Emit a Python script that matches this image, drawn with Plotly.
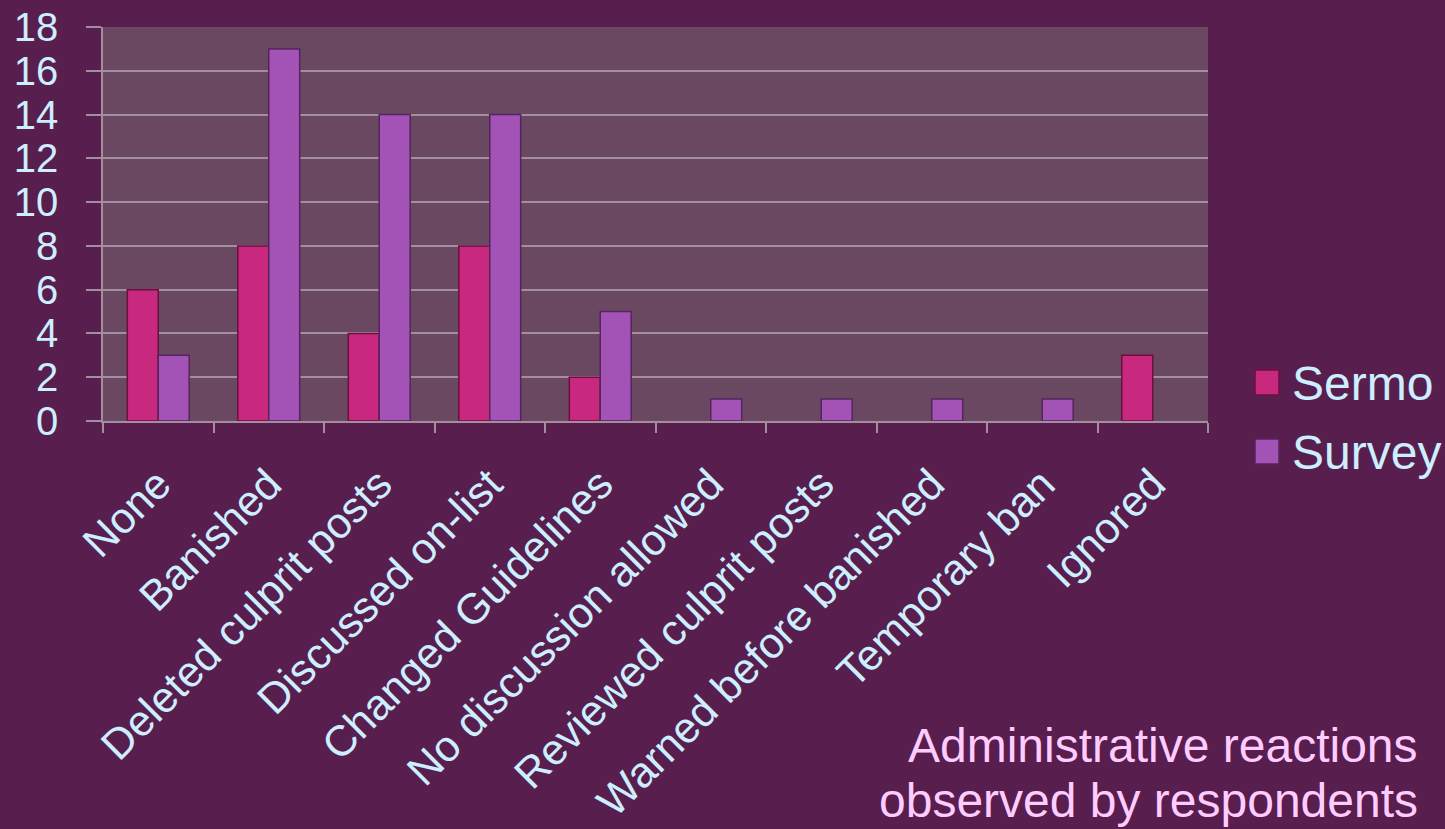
import plotly.graph_objects as go

categories = ["None", "Banished", "Deleted culprit posts", "Discussed on-list",
              "Changed Guidelines", "No discussion allowed", "Reviewed culprit posts",
              "Warned before banished", "Temporary ban", "Ignored"]
sermo = [6, 8, 4, 8, 2, 0, 0, 0, 0, 3]
survey = [3, 17, 14, 14, 5, 1, 1, 1, 1, 0]
series_names = ["Sermo", "Survey"]
y_ticks = list(range(0, 19, 2))

BG = "#581E4D"
PLOT_BG = "#6A4862"
GRID = "#A38E9E"
TEXT = "#CCEEFF"
PINK = "#FFCCFF"
COLORS = ["#C8297E", "#A352B6"]
EDGE = ["#6E0E40", "#55245F"]

fig = go.Figure()
for name, vals, c, e in zip(series_names, [sermo, survey], COLORS, EDGE):
    fig.add_trace(go.Bar(x=categories, y=vals, name=name,
                         marker=dict(color=c, line=dict(color=e,
                                                        width=[1.5 if v else 0 for v in vals])),
                         showlegend=False))

fig.update_layout(
    width=1445, height=829,
    paper_bgcolor=BG, plot_bgcolor=PLOT_BG,
    margin=dict(l=103, r=237, t=27, b=408),
    barmode="group", bargap=0.44, bargroupgap=0.0,
    font=dict(family="Arial, Liberation Sans, sans-serif", color=TEXT),
)
fig.update_yaxes(range=[0, 18], tickvals=y_ticks, showgrid=True, gridcolor=GRID, gridwidth=1.5,
                 ticks="outside", ticklen=15, tickcolor=GRID, tickwidth=1.5,
                 showline=True, linecolor=GRID, linewidth=1.5, automargin=False,
                 tickfont=dict(size=40, color=TEXT), ticklabelstandoff=20, zeroline=False)
fig.update_xaxes(tickangle=-45, tickson="boundaries", ticks="outside", ticklen=10,
                 tickcolor=GRID, tickwidth=1.5, showline=True, linecolor=GRID, linewidth=1.5,
                 automargin=False, ticklabelstandoff=19,
                 tickfont=dict(size=43, color=TEXT), showgrid=False)

# manual legend
legend_y = [383, 452]
for name, c, e, yy in zip(series_names, COLORS, EDGE, legend_y):
    fig.add_shape(type="rect", xref="paper", yref="paper",
                  x0=(1255 - 103) / 1105, x1=(1279 - 103) / 1105,
                  y0=(421 - (yy + 12)) / 394, y1=(421 - (yy - 13)) / 394,
                  fillcolor=c, line=dict(color=e, width=1.5))
    fig.add_annotation(xref="paper", yref="paper", x=(1290 - 103) / 1105, y=(421 - yy) / 394,
                       text=name, showarrow=False, xanchor="left", yanchor="middle",
                       font=dict(size=48, color=TEXT))

title_lines = ["Administrative reactions", "observed by respondents"]
for line, yy in zip(title_lines, [745, 800]):
    fig.add_annotation(xref="paper", yref="paper", x=(1420 - 103) / 1105, y=(421 - yy) / 394,
                       text=line, showarrow=False, xanchor="right", yanchor="middle",
                       font=dict(size=48, color=PINK))

fig.write_html("out.html", config={"displayModeBar": False},
               post_script=["document.body.style.margin='0';document.body.style.overflow='hidden';"])
